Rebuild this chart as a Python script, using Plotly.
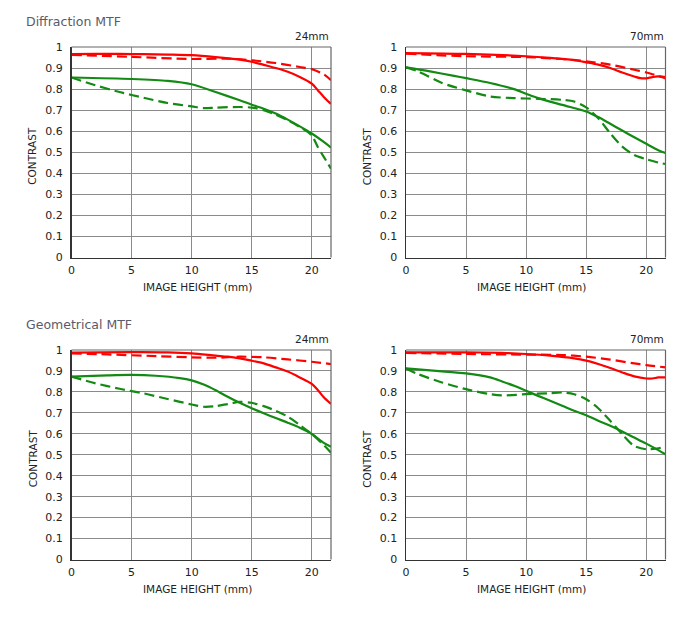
import plotly.graph_objects as go

# ---------------- data ----------------
# Diffraction MTF, 24mm
d24_x = [0, 2, 4, 6, 8, 10, 12, 14, 15, 16, 17, 18, 19, 20, 20.5, 21, 21.6]
d24_red_solid = [0.966, 0.967, 0.967, 0.966, 0.964, 0.961, 0.952, 0.94, 0.93, 0.915, 0.9, 0.882, 0.858, 0.826, 0.795, 0.763, 0.73]
d24_red_dash_x = [0, 5, 10, 13, 15, 17, 19, 20, 21, 21.6]
d24_red_dash = [0.963, 0.953, 0.943, 0.945, 0.937, 0.924, 0.905, 0.895, 0.87, 0.842]
d24_grn_solid_x = [0, 5, 8, 10, 12, 14, 15, 16, 17, 18, 19, 20, 21, 21.6]
d24_grn_solid = [0.855, 0.848, 0.839, 0.823, 0.786, 0.747, 0.726, 0.707, 0.684, 0.655, 0.623, 0.589, 0.549, 0.522]
d24_grn_dash_x = [0, 2, 4, 6, 8, 10, 11, 12, 14, 15, 16, 17, 18, 19, 20, 20.5, 21, 21.6]
d24_grn_dash = [0.855, 0.818, 0.786, 0.759, 0.734, 0.718, 0.71, 0.712, 0.715, 0.712, 0.70, 0.679, 0.652, 0.62, 0.58, 0.525, 0.478, 0.422]

# Diffraction MTF, 70mm
d70_red_solid_x = [0, 5, 10, 12, 14, 15, 16, 17, 18, 19, 19.5, 20, 20.5, 21, 21.6]
d70_red_solid = [0.971, 0.967, 0.956, 0.948, 0.937, 0.927, 0.916, 0.90, 0.879, 0.86, 0.852, 0.851, 0.857, 0.86, 0.851]
d70_red_dash_x = [0, 5, 10, 13, 15, 17, 19, 20, 21, 21.6]
d70_red_dash = [0.968, 0.956, 0.952, 0.943, 0.932, 0.916, 0.892, 0.879, 0.863, 0.857]
d70_grn_solid_x = [0, 2, 4, 5, 7, 9, 10, 11, 13, 15, 16, 17, 18, 19, 20, 21, 21.6]
d70_grn_solid = [0.903, 0.884, 0.863, 0.852, 0.829, 0.80, 0.778, 0.757, 0.725, 0.694, 0.667, 0.635, 0.603, 0.571, 0.54, 0.51, 0.496]
d70_grn_dash_x = [0, 1, 3, 5, 7, 9, 11, 13, 14, 15, 16, 17, 18, 19, 20, 21, 21.6]
d70_grn_dash = [0.903, 0.884, 0.829, 0.794, 0.765, 0.757, 0.754, 0.749, 0.741, 0.713, 0.662, 0.59, 0.527, 0.487, 0.467, 0.451, 0.444]

# Geometrical MTF, 24mm
g24_red_solid_x = [0, 5, 8, 10, 12, 13, 14, 15, 16, 17, 18, 19, 20, 20.5, 21, 21.6]
g24_red_solid = [0.987, 0.99, 0.989, 0.984, 0.973, 0.968, 0.96, 0.949, 0.936, 0.917, 0.897, 0.869, 0.838, 0.809, 0.774, 0.742]
g24_red_dash_x = [0, 3, 7, 10, 12, 14, 16, 18, 20, 21.6]
g24_red_dash = [0.984, 0.979, 0.971, 0.965, 0.963, 0.968, 0.965, 0.955, 0.944, 0.933]
g24_grn_solid_x = [0, 3, 5, 7, 9, 10, 11, 12, 13, 14, 15, 16, 17, 18, 19, 20, 21, 21.6]
g24_grn_solid = [0.873, 0.879, 0.881, 0.877, 0.866, 0.855, 0.835, 0.808, 0.777, 0.748, 0.722, 0.698, 0.675, 0.653, 0.629, 0.599, 0.557, 0.538]
g24_grn_dash_x = [0, 2, 4, 6, 8, 10, 11, 12, 13, 14, 15, 16, 17, 18, 19, 20, 21, 21.6]
g24_grn_dash = [0.873, 0.841, 0.815, 0.793, 0.766, 0.74, 0.729, 0.732, 0.742, 0.752, 0.748, 0.732, 0.71, 0.682, 0.642, 0.599, 0.546, 0.51]

# Geometrical MTF, 70mm
g70_red_solid_x = [0, 5, 8, 10, 12, 14, 15, 16, 17, 18, 19, 20, 20.5, 21, 21.6]
g70_red_solid = [0.989, 0.989, 0.986, 0.981, 0.973, 0.96, 0.949, 0.933, 0.914, 0.893, 0.874, 0.864, 0.864, 0.869, 0.869]
g70_red_dash_x = [0, 5, 10, 13, 15, 17, 19, 20, 21.6]
g70_red_dash = [0.986, 0.981, 0.978, 0.976, 0.968, 0.954, 0.936, 0.928, 0.917]
g70_grn_solid_x = [0, 3, 5, 7, 8, 9, 10, 11, 12, 13, 14, 15, 16, 17, 18, 19, 20, 21, 21.6]
g70_grn_solid = [0.912, 0.898, 0.888, 0.869, 0.85, 0.829, 0.805, 0.781, 0.758, 0.734, 0.71, 0.689, 0.662, 0.638, 0.611, 0.582, 0.553, 0.522, 0.502]
g70_grn_dash_x = [0, 1, 3, 5, 7, 8, 10, 12, 13, 14, 15, 16, 17, 18, 19, 20, 21, 21.6]
g70_grn_dash = [0.912, 0.885, 0.845, 0.813, 0.789, 0.783, 0.789, 0.794, 0.797, 0.789, 0.765, 0.722, 0.662, 0.598, 0.542, 0.526, 0.531, 0.537]

panels = [
    ("Diffraction MTF", "24mm", [
        (d24_x, d24_red_solid, "red", "solid"),
        (d24_red_dash_x, d24_red_dash, "red", "dash"),
        (d24_grn_solid_x, d24_grn_solid, "green", "solid"),
        (d24_grn_dash_x, d24_grn_dash, "green", "dash"),
    ]),
    (None, "70mm", [
        (d70_red_solid_x, d70_red_solid, "red", "solid"),
        (d70_red_dash_x, d70_red_dash, "red", "dash"),
        (d70_grn_solid_x, d70_grn_solid, "green", "solid"),
        (d70_grn_dash_x, d70_grn_dash, "green", "dash"),
    ]),
    ("Geometrical MTF", "24mm", [
        (g24_red_solid_x, g24_red_solid, "red", "solid"),
        (g24_red_dash_x, g24_red_dash, "red", "dash"),
        (g24_grn_solid_x, g24_grn_solid, "green", "solid"),
        (g24_grn_dash_x, g24_grn_dash, "green", "dash"),
    ]),
    (None, "70mm", [
        (g70_red_solid_x, g70_red_solid, "red", "solid"),
        (g70_red_dash_x, g70_red_dash, "red", "dash"),
        (g70_grn_solid_x, g70_grn_solid, "green", "solid"),
        (g70_grn_dash_x, g70_grn_dash, "green", "dash"),
    ]),
]

x_ticks = [0, 5, 10, 15, 20]
y_ticks = [0, 0.1, 0.2, 0.3, 0.4, 0.5, 0.6, 0.7, 0.8, 0.9, 1]
y_tick_text = ["0", "0.1", "0.2", "0.3", "0.4", "0.5", "0.6", "0.7", "0.8", "0.9", "1"]

# ---------------- layout ----------------
W, H = 690, 617
COLORS = {"red": "#ff0000", "green": "#138a13"}
FONT = "DejaVu Sans, Verdana, sans-serif"

# pixel boxes (left, right, top, bottom)
boxes = [
    (71.5, 331, 47, 257.5),
    (406, 665.5, 47, 257.5),
    (71.5, 331, 350, 559.5),
    (406, 665.5, 350, 559.5),
]

fig = go.Figure()
layout = dict(
    width=W, height=H,
    margin=dict(l=0, r=0, t=0, b=0, autoexpand=False),
    paper_bgcolor="white", plot_bgcolor="white",
    showlegend=False,
    font=dict(family=FONT, size=10, color="#222"),
)
annotations = []
shapes = []

for i, (title, focal, series) in enumerate(panels):
    l, r, t, b = boxes[i]
    xa = "xaxis" if i == 0 else f"xaxis{i+1}"
    ya = "yaxis" if i == 0 else f"yaxis{i+1}"
    xr = "x" if i == 0 else f"x{i+1}"
    yr = "y" if i == 0 else f"y{i+1}"
    layout[xa] = dict(
        domain=[l / W, r / W], anchor=yr, range=[0, 21.6],
        tickvals=x_ticks, ticktext=[str(v) for v in x_ticks],
        showgrid=True, gridcolor="#8a8a8a", gridwidth=1,
        zeroline=False, showline=True, linecolor="#333", linewidth=1.5,
        ticks="outside", ticklen=2, tickcolor="rgba(0,0,0,0)",
        tickfont=dict(size=11, color="#222", family=FONT),
        automargin=False,
        fixedrange=True,
    )
    layout[ya] = dict(
        domain=[1 - b / H, 1 - t / H], anchor=xr, range=[0, 1.0],
        tickvals=y_ticks, ticktext=y_tick_text,
        showgrid=True, gridcolor="#8a8a8a", gridwidth=1,
        zeroline=False, showline=True, linecolor="#333", linewidth=1.5,
        ticks="outside", ticklen=5, tickcolor="rgba(0,0,0,0)",
        tickfont=dict(size=11, color="#222", family=FONT),
        automargin=False,
        fixedrange=True,
    )
    annotations.append(dict(text="IMAGE HEIGHT (mm)", xref="paper", yref="paper",
                            x=((l + r) / 2 - 4) / W, y=1 - (b + 29) / H, xanchor="center", yanchor="middle",
                            showarrow=False, font=dict(size=10.5, color="#222", family=FONT)))
    annotations.append(dict(text="CONTRAST", xref="paper", yref="paper", textangle=-90,
                            x=(l - 39) / W, y=1 - ((t + b) / 2 + 4) / H, xanchor="center", yanchor="middle",
                            showarrow=False, font=dict(size=10.5, color="#222", family=FONT)))
    shapes.append(dict(type="line", xref="paper", yref="paper",
                       x0=l / W, x1=r / W, y0=1 - t / H, y1=1 - t / H,
                       line=dict(color="#666", width=1.2)))
    shapes.append(dict(type="line", xref="paper", yref="paper",
                       x0=r / W, x1=r / W, y0=1 - t / H, y1=1 - b / H,
                       line=dict(color="#666", width=1.2)))
    for xs, ys, col, dash in series:
        fig.add_trace(go.Scatter(
            x=xs, y=ys, mode="lines", xaxis=xr, yaxis=yr,
            line=dict(color=COLORS[col], width=2.2,
                      dash="solid" if dash == "solid" else "10px,5px",
                      shape="spline", smoothing=0.8),
            hoverinfo="skip", cliponaxis=True,
        ))
    annotations.append(dict(text=focal, xref="paper", yref="paper",
                            x=r / W, y=1 - (t - 3) / H, xanchor="right", yanchor="bottom",
                            showarrow=False, font=dict(size=10.5, color="#222", family=FONT)))
    if title:
        annotations.append(dict(text=title, xref="paper", yref="paper",
                                x=24 / W, y=1 - (t - 16) / H, xanchor="left", yanchor="bottom",
                                showarrow=False, font=dict(size=12.5, color="#5a5a6a", family=FONT)))

layout["annotations"] = annotations
layout["shapes"] = shapes
fig.update_layout(**layout)
fig.write_html("out.html",
               config={"displayModeBar": False, "staticPlot": True},
               post_script="document.body.style.margin='0';document.body.style.padding='0';")
